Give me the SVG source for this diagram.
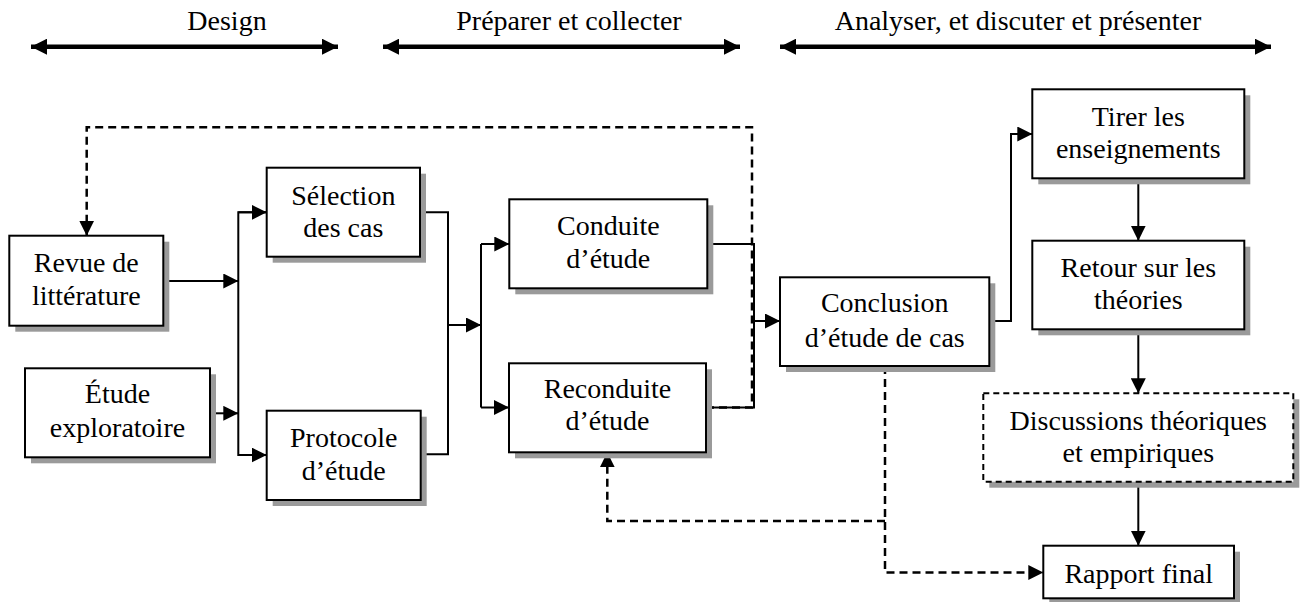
<svg xmlns="http://www.w3.org/2000/svg" width="1300" height="602" viewBox="0 0 1300 602">
<style>
text{font-family:"Liberation Serif","Times New Roman",serif;font-size:28px;fill:#000;text-anchor:middle}
.box{fill:#fff;stroke:#000;stroke-width:2}
.dbox{fill:#fff;stroke:#000;stroke-width:2;stroke-dasharray:6 4}
.sh{fill:#9a9a9a}
.c{fill:none;stroke:#000;stroke-width:2}
.d{fill:none;stroke:#000;stroke-width:2.5;stroke-dasharray:8 5}
.h{fill:none;stroke:#000;stroke-width:4.5}
</style>
<defs>
<marker id="a" markerUnits="userSpaceOnUse" markerWidth="16" markerHeight="15" refX="15" refY="7.5" orient="auto"><path d="M0,0 L15,7.5 L0,15 z" fill="#000"/></marker>
<marker id="ha" markerUnits="userSpaceOnUse" markerWidth="17" markerHeight="16" refX="16" refY="8" orient="auto-start-reverse"><path d="M0,0 L16,8 L0,16 z" fill="#000"/></marker>
</defs>
<g id="phases">
<text x="227" y="30">Design</text>
<line class="h" x1="31" y1="46.7" x2="338" y2="46.7" marker-start="url(#ha)" marker-end="url(#ha)"/>
<text x="569" y="30">Préparer et collecter</text>
<line class="h" x1="383" y1="46.7" x2="740" y2="46.7" marker-start="url(#ha)" marker-end="url(#ha)"/>
<text x="1018" y="30">Analyser, et discuter et présenter</text>
<line class="h" x1="780" y1="46.7" x2="1271" y2="46.7" marker-start="url(#ha)" marker-end="url(#ha)"/>
</g>
<g id="connectors">
<polyline class="d" points="706,407.5 752,407.5 752,127.3 86.7,127.3 86.7,235.7" marker-end="url(#a)"/>
<polyline class="d" points="885,366 885,572.5 1043.3,572.5" marker-end="url(#a)"/>
<polyline class="d" points="885,521 607.3,521 607.3,452.3" marker-end="url(#a)"/>
<line class="c" x1="163.3" y1="281" x2="238.3" y2="281" marker-end="url(#a)"/>
<line class="c" x1="210" y1="413.3" x2="238.3" y2="413.3" marker-end="url(#a)"/>
<polyline class="c" points="266.7,212.3 238.3,212.3 238.3,455 266.7,455" />
<line class="c" x1="238.3" y1="212.3" x2="266.7" y2="212.3" marker-end="url(#a)"/>
<line class="c" x1="238.3" y1="455" x2="266.7" y2="455" marker-end="url(#a)"/>
<polyline class="c" points="420,212.3 448,212.3 448,454.3 420.7,454.3"/>
<line class="c" x1="448" y1="325" x2="481" y2="325" marker-end="url(#a)"/>
<line class="c" x1="481" y1="244" x2="481" y2="407.5"/>
<line class="c" x1="481" y1="244" x2="509.3" y2="244" marker-end="url(#a)"/>
<line class="c" x1="481" y1="407.5" x2="509" y2="407.5" marker-end="url(#a)"/>
<polyline class="c" points="707.3,244 754,244 754,407.5 706,407.5"/>
<line class="c" x1="752" y1="321" x2="780" y2="321" marker-end="url(#a)"/>
<polyline class="c" points="989.3,321 1011,321 1011,134 1032.3,134" marker-end="url(#a)"/>
<line class="c" x1="1138.3" y1="178.3" x2="1138.3" y2="240.7" marker-end="url(#a)"/>
<line class="c" x1="1138.3" y1="329.3" x2="1138.3" y2="393.3" marker-end="url(#a)"/>
<line class="c" x1="1138.3" y1="481.7" x2="1138.3" y2="545.7" marker-end="url(#a)"/>
</g>
<g id="revue">
<rect class="sh" x="15.3" y="241.7" width="154" height="90"/>
<rect class="box" x="9.3" y="235.7" width="154" height="90"/>
<text x="86.3" y="271.7">Revue de</text>
<text x="86.3" y="305">littérature</text>
</g>
<g id="etude">
<rect class="sh" x="31" y="374.3" width="185" height="89"/>
<rect class="box" x="25" y="368.3" width="185" height="89"/>
<text x="117.5" y="403.3">Étude</text>
<text x="117.5" y="436.7">exploratoire</text>
</g>
<g id="selection">
<rect class="sh" x="272.7" y="173.7" width="153.3" height="89"/>
<rect class="box" x="266.7" y="167.7" width="153.3" height="89"/>
<text x="343.3" y="205">Sélection</text>
<text x="343.3" y="236.7">des cas</text>
</g>
<g id="protocole">
<rect class="sh" x="272.7" y="416.7" width="154" height="89.3"/>
<rect class="box" x="266.7" y="410.7" width="154" height="89.3"/>
<text x="343.7" y="446.7">Protocole</text>
<text x="343.7" y="480">d’étude</text>
</g>
<g id="conduite">
<rect class="sh" x="515.3" y="205.3" width="198" height="89"/>
<rect class="box" x="509.3" y="199.3" width="198" height="89"/>
<text x="608.3" y="235">Conduite</text>
<text x="608.3" y="268.3">d’étude</text>
</g>
<g id="reconduite">
<rect class="sh" x="515" y="369.3" width="197" height="89"/>
<rect class="box" x="509" y="363.3" width="197" height="89"/>
<text x="607.5" y="398.3">Reconduite</text>
<text x="607.5" y="430">d’étude</text>
</g>
<g id="conclusion">
<rect class="sh" x="786" y="283.3" width="209.3" height="88.7"/>
<rect class="box" x="780" y="277.3" width="209.3" height="88.7"/>
<text x="884.7" y="312.3">Conclusion</text>
<text x="884.7" y="346.7">d’étude de cas</text>
</g>
<g id="tirer">
<rect class="sh" x="1038.3" y="95.3" width="212" height="89"/>
<rect class="box" x="1032.3" y="89.3" width="212" height="89"/>
<text x="1138.3" y="125.7">Tirer les</text>
<text x="1138.3" y="158.3">enseignements</text>
</g>
<g id="retour">
<rect class="sh" x="1038.3" y="246.7" width="212" height="88.6"/>
<rect class="box" x="1032.3" y="240.7" width="212" height="88.6"/>
<text x="1138.3" y="276.7">Retour sur les</text>
<text x="1138.3" y="309.3">théories</text>
</g>
<g id="discussions">
<rect class="sh" x="989.3" y="399.3" width="310" height="88.4"/>
<rect class="dbox" x="983.3" y="393.3" width="310" height="88.4"/>
<text x="1138.3" y="430">Discussions théoriques</text>
<text x="1138.3" y="461.7">et empiriques</text>
</g>
<g id="rapport">
<rect class="sh" x="1049.3" y="551.7" width="190.7" height="52.6"/>
<rect class="box" x="1043.3" y="545.7" width="190.7" height="52.6"/>
<text x="1138.7" y="582.7">Rapport final</text>
</g>
</svg>
